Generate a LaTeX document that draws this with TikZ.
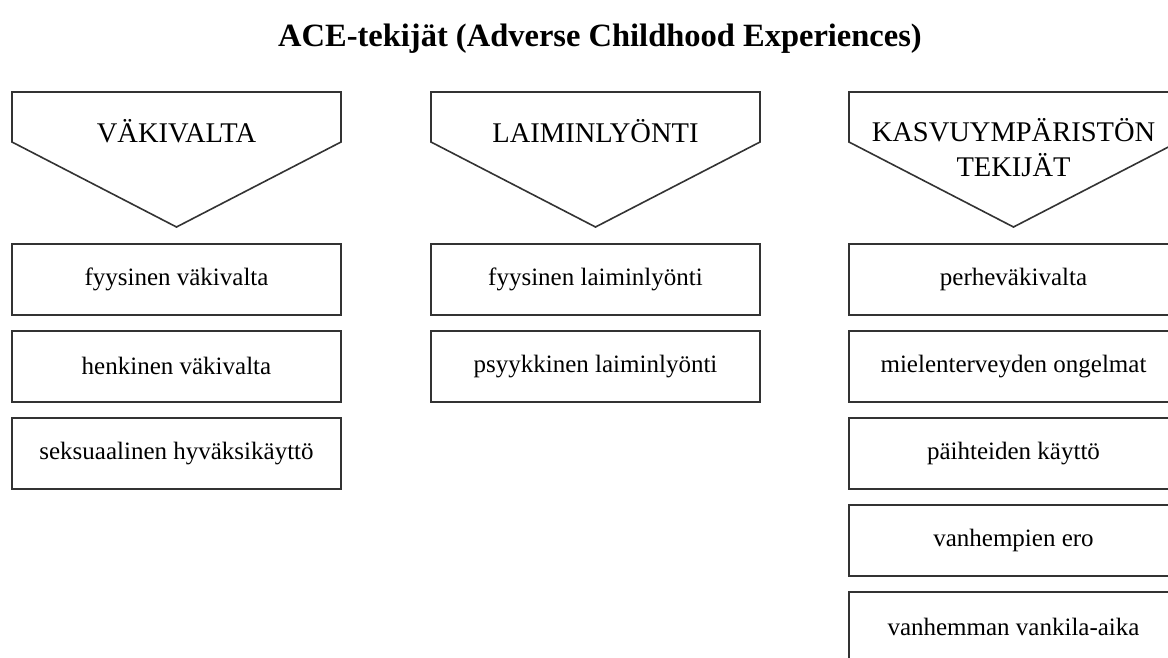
\documentclass[tikz,border=0pt]{standalone}
\usepackage{fontspec}
\setmainfont{Liberation Serif}
\begin{document}
\begin{tikzpicture}[x=1pt,y=-1pt,
  frame/.style={draw=black!80,line width=1.6pt},
  itembox/.style={frame,fill=white,minimum width=329pt,minimum height=71pt,inner sep=0pt,anchor=north,font=\fontsize{25}{29}\selectfont},
  headtext/.style={align=center,font=\fontsize{28.5}{35}\selectfont,inner sep=0pt},
  titletext/.style={font=\bfseries\fontsize{32.5}{38}\selectfont,inner sep=0pt}]
\useasboundingbox (0,0) rectangle (1168,657);
\clip (0,0) rectangle (1168,657);
\fill[white] (0,0) rectangle (1168,657);
\node[titletext] (title) at (600,39) {ACE-tekijät (Adverse Childhood Experiences)};
% headers
\foreach \cx in {176.5,595.5,1013.5}{
  \draw[frame,line join=miter] (\cx-164.5,92) -- (\cx+164.5,92) -- (\cx+164.5,142) -- (\cx,227) -- (\cx-164.5,142) -- cycle;
}
\node[headtext] (h1) at (176.5,131) {VÄKIVALTA};
\node[headtext] (h2) at (595.5,131) {LAIMINLYÖNTI};
\node[headtext] (h3) at (1013.5,148) {KASVUYMPÄRISTÖN\\TEKIJÄT};
% column 1
\node[itembox] (a1) at (176.5,243) {fyysinen väkivalta};
\node[itembox] (a2) at (176.5,330) {henkinen väkivalta};
\node[itembox] (a3) at (176.5,417) {seksuaalinen hyväksikäyttö};
% column 2
\node[itembox] (b1) at (595.5,243) {fyysinen laiminlyönti};
\node[itembox] (b2) at (595.5,330) {psyykkinen laiminlyönti};
% column 3
\node[itembox] (c1) at (1013.5,243) {perheväkivalta};
\node[itembox] (c2) at (1013.5,330) {mielenterveyden ongelmat};
\node[itembox] (c3) at (1013.5,417) {päihteiden käyttö};
\node[itembox] (c4) at (1013.5,504) {vanhempien ero};
\node[itembox] (c5) at (1013.5,591) {vanhemman vankila-aika};
\end{tikzpicture}
\end{document}
